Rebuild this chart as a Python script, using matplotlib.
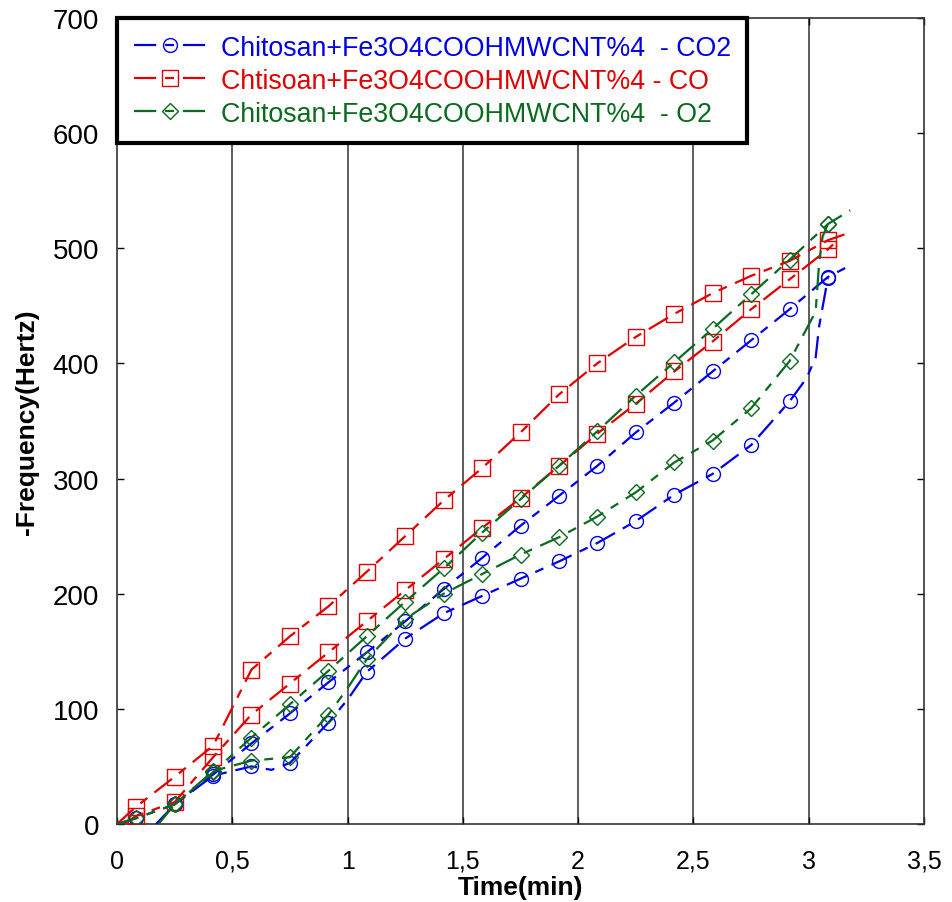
import numpy as np
import matplotlib
matplotlib.use("Agg")
import matplotlib.pyplot as plt
from matplotlib.ticker import MultipleLocator, FuncFormatter

plt.rcParams['font.family'] = ['Liberation Sans', 'DejaVu Sans']

# Sampling instants carrying a marker (min)
t_marks = [0.083, 0.25, 0.417, 0.583, 0.75, 0.917, 1.083, 1.25, 1.417, 1.583,
           1.75, 1.917, 2.083, 2.25, 2.417, 2.583, 2.75, 2.917, 3.083]

# CO2 - two runs
co2_a_t = [0.0] + t_marks + [3.16]
co2_a_f = [0, 5, 17, 43, 70, 96, 123, 149, 176, 204, 231, 259, 285, 311, 340,
           366, 393, 420, 447, 475, 483]
co2_b_t = [0.17, 0.25, 0.417, 0.583, 0.67, 0.75, 0.917, 1.0, 1.083, 1.25, 1.417,
           1.583, 1.75, 1.917, 2.083, 2.25, 2.417, 2.583, 2.75, 2.917, 2.99,
           3.03, 3.045, 3.083]
co2_b_f = [0, 17, 42, 50, 47, 53, 88, 108, 132, 161, 183, 198, 213, 228, 244,
           263, 286, 304, 329, 367, 387, 405, 432, 474]

# CO - two runs
co_a_t = [0.0] + t_marks + [3.17]
co_a_f = [0, 15, 41, 68, 134, 163, 189, 219, 250, 281, 309, 340, 373, 400, 423,
          443, 461, 476, 489, 507, 513]
co_b_t = [0.03] + t_marks + [3.12]
co_b_f = [0, 7, 19, 58, 95, 122, 149, 176, 203, 230, 257, 283, 311, 339, 365,
          393, 419, 447, 473, 499, 506]

# O2 - two runs
o2_a_t = [0.0] + t_marks + [3.18]
o2_a_f = [0, 5, 17, 45, 75, 104, 133, 163, 193, 222, 253, 282, 311, 341, 372,
          401, 430, 460, 490, 521, 533]
o2_b_t = [0.18, 0.25, 0.417, 0.583, 0.75, 0.917, 1.0, 1.083, 1.25, 1.417, 1.583,
          1.75, 1.917, 2.083, 2.25, 2.417, 2.583, 2.75, 2.917, 2.98, 3.03,
          3.045, 3.06, 3.083]
o2_b_f = [0, 17, 46, 55, 58, 95, 118, 143, 178, 200, 217, 234, 249, 267, 288,
          314, 333, 361, 402, 426, 445, 487, 510, 521]

labels = ["Chitosan+Fe3O4COOHMWCNT%4  - CO2",
          "Chtisoan+Fe3O4COOHMWCNT%4 - CO",
          "Chitosan+Fe3O4COOHMWCNT%4  - O2"]
colors = ["#0000E6", "#E00000", "#0A6A1E"]
markers = ["o", "s", "D"]
msizes = [10, 11, 8]
dash = (0, (10, 4, 4, 4))

x_ticks = [0, 0.5, 1, 1.5, 2, 2.5, 3, 3.5]

fig = plt.figure(figsize=(9.52, 9.03), dpi=100)
ax = fig.add_axes([0.1229, 0.0864, 0.8477, 0.8926])

series = [
    [(co2_a_t, co2_a_f), (co2_b_t, co2_b_f)],
    [(co_a_t, co_a_f), (co_b_t, co_b_f)],
    [(o2_a_t, o2_a_f), (o2_b_t, o2_b_f)],
]

marks = np.array(t_marks)
handles = []
for runs, lab, col, mk, ms in zip(series, labels, colors, markers, msizes):
    for k, (tx, fy) in enumerate(runs):
        tx = np.asarray(tx)
        idx = [i for i, v in enumerate(tx) if np.isclose(marks, v).any()]
        ln, = ax.plot(tx, fy, color=col, lw=1.6, linestyle=dash,
                      marker=mk, markevery=idx, markersize=ms,
                      markerfacecolor='none', markeredgecolor=col,
                      markeredgewidth=1.0, zorder=3,
                      label=lab if k == 0 else None)
        if k == 0:
            handles.append(ln)

ax.set_xlim(0, 3.5)
ax.set_ylim(0, 700)
ax.xaxis.set_major_locator(MultipleLocator(0.5))
ax.yaxis.set_major_locator(MultipleLocator(100))


def comma_fmt(v, pos):
    s = f"{v:g}"
    return s.replace('.', ',')


ax.xaxis.set_major_formatter(FuncFormatter(comma_fmt))
ax.tick_params(direction='in', length=5, width=1, top=True, right=True)
ax.tick_params(axis='x', labelsize=18, pad=18)
ax.tick_params(axis='y', labelsize=20, pad=13)
for xv in x_ticks[1:-1]:
    ax.axvline(xv, color='#333333', lw=1.1, zorder=1)
for sp in ax.spines.values():
    sp.set_linewidth(1.2)
    sp.set_color('#333333')

ax.set_xlabel("Time(min)", fontsize=19, fontweight='bold')
ax.xaxis.set_label_coords(0.5, -0.063)
ax.set_ylabel("-Frequency(Hertz)", fontsize=19, fontweight='bold', labelpad=10)

leg = ax.legend(handles=handles, loc='upper left', bbox_to_anchor=(0.0, 1.0),
                borderaxespad=0.0, fontsize=19.3, frameon=True, fancybox=False,
                handlelength=2.75, handletextpad=0.5, labelspacing=0.26,
                borderpad=0.62, numpoints=1)
for txt, col in zip(leg.get_texts(), colors):
    txt.set_color(col)
frame = leg.get_frame()
frame.set_edgecolor('black')
frame.set_linewidth(3)
frame.set_alpha(1)

fig.savefig("out.png", dpi=100)
